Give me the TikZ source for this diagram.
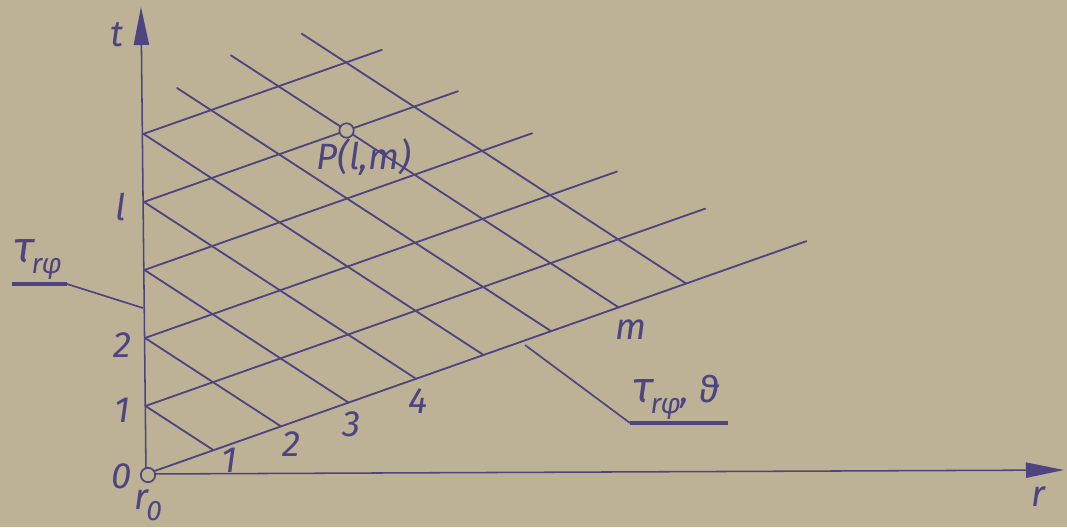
\documentclass[tikz,border=0pt]{standalone}
\usepackage{fontspec}
\setmainfont{Fira Sans}
\usetikzlibrary{arrows.meta}

\definecolor{ink}{RGB}{78,68,128}
\definecolor{paper}{RGB}{190,178,150}
\newcommand{\lowsub}[1]{\kern-0.05em\raisebox{-0.3em}{\fontsize{20}{21}\selectfont #1}}
\newcommand{\bigtau}{{\fontsize{31}{32}\selectfont τ}}

\begin{document}
\begin{tikzpicture}[
  x=0.025cm, y=-0.025cm,
  font=\fontsize{26}{28}\selectfont\itshape,
  lbl/.style={text=ink, inner sep=0pt},
  gridline/.style={draw=ink, line width=1.3pt, line cap=round},
  axis/.style={draw=ink, line width=1.1pt, -{Triangle[length=0.95cm, width=0.38cm]}},
  leader/.style={draw=ink, line width=1.2pt},
  under/.style={draw=ink, line width=2.4pt},
  ring/.style={circle, draw=ink, line width=1.2pt, fill=paper, inner sep=0pt, minimum size=0.36cm}
]
\fill[paper] (0,0) rectangle (1067,527);
\useasboundingbox (0,0) rectangle (1067,527);

\coordinate (O) at (146,474);
\coordinate (ttip) at (141,7);
\coordinate (rtip) at (1064,470);

% axes
\draw[axis] (O) -- (ttip);
\draw[axis] (O) -- (rtip);

% characteristic net, in lattice coordinates
\begin{scope}[shift={(O)}, x={(1.6875cm,0.595cm)}, y={(-0.0125cm,1.7cm)}]
  \foreach \q/\e in {0/9.78, 1/8.29, 2/6.99, 3/5.74, 4/4.65, 5/3.53}
    \draw[gridline] (0,\q) -- (\e,\q);
  \foreach \c/\s in {1/0, 2/0, 3/0, 4/0, 5/0, 6/0.5, 7/1.3, 8/2.35}
    \draw[gridline] (\s,\c-\s) -- (\c,0);
  \node[ring] (P) at (3,4) {};
\end{scope}
\node[ring] (o) at (148,475) {};

% axis labels
\node[lbl] (tlab) at (117,35) {t};
\node[lbl] (rlab) at (1038,497) {r};
\node[lbl] (r0) at (148,505) {r\lowsub{0}};
\node[lbl] (t0) at (122,476) {0};
\node[lbl] (t1) at (122,410) {1};
\node[lbl] (t2) at (122,345) {2};
\node[lbl] (tl) at (121,207) {l};
\node[lbl] (b1) at (229,460) {1};
\node[lbl] (b2) at (291,444) {2};
\node[lbl] (b3) at (352,424) {3};
\node[lbl] (b4) at (418,401) {4};
\node[lbl] (bm) at (631,330) {m};
\node[lbl] (Plab) at (364,157) {P(l,m)};

% leaders
\node[lbl] (tau1) at (38,260) {\bigtau\lowsub{rφ}};
\coordinate (u1a) at (12,284);
\coordinate (u1b) at (67,284);
\coordinate (u1c) at (143,308);
\draw[under] (u1a) -- (u1b);
\draw[leader] (u1b) -- (u1c);

\node[lbl] (tau2) at (676,397) {\bigtau\lowsub{rφ}, ϑ};
\coordinate (u2a) at (525,345);
\coordinate (u2b) at (630,423);
\coordinate (u2c) at (728,423);
\draw[leader] (u2a) -- (u2b);
\draw[under] (u2b) -- (u2c);
\end{tikzpicture}
\end{document}
